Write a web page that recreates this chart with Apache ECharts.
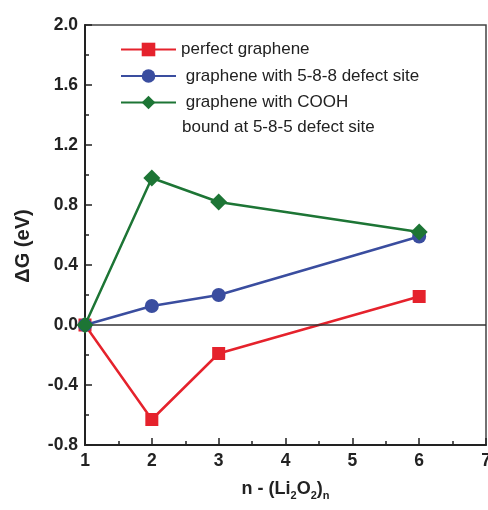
<!DOCTYPE html>
<html>
<head>
<meta charset="utf-8">
<script src="https://cdn.jsdelivr.net/npm/echarts@6/dist/echarts.min.js"></script>
<style>html,body{margin:0;padding:0;background:#fff}#c{width:488px;height:510px}</style>
</head>
<body>
<div id="c"></div>
<script>
const xValues = [1, 2, 3, 6];
const perfect = [0, -0.63, -0.19, 0.19];
const defect588 = [0, 0.127, 0.2, 0.59];
const cooh585 = [0, 0.98, 0.82, 0.62];
const seriesNames = ['perfect graphene', ' graphene with 5-8-8 defect site', ' graphene with COOH'];
const legendExtraLine = 'bound at 5-8-5 defect site';

const pair = arr => xValues.map((x, i) => [x, arr[i]]);
const font = '"Liberation Sans", Arial, sans-serif';
const chart = echarts.init(document.getElementById('c'));
chart.setOption({
  animation: false,
  backgroundColor: '#fff',
  textStyle: { fontFamily: font },
  grid: { left: 85, right: 2, top: 25, bottom: 65, show: true, borderColor: '#444', borderWidth: 1.5,
    outerBoundsMode: 'none', containLabel: false },
  legend: {
    orient: 'vertical', left: 115, top: 36, itemWidth: 55, itemHeight: 17, itemGap: 9.5,
    textStyle: { fontFamily: font, fontSize: 17, color: '#222' },
    data: seriesNames
  },
  graphic: [{
    type: 'text', left: 182, top: 119,
    style: { text: legendExtraLine, fontFamily: font, fontSize: 17, fill: '#222' }
  }],
  xAxis: {
    type: 'value', min: 1, max: 7, interval: 1,
    name: 'n - (Li{s|2}O{s|2}){s|n}', nameLocation: 'middle', nameGap: 33,
    nameTextStyle: {
      fontFamily: font, fontSize: 18, fontWeight: 'bold', color: '#222',
      rich: { s: { fontFamily: font, fontSize: 11, fontWeight: 'bold', color: '#222', padding: [12, 0, 0, 0] } }
    },
    axisLine: { onZero: false, lineStyle: { color: '#222', width: 2 } },
    axisTick: { inside: true, length: 7, lineStyle: { color: '#222', width: 1.5 } },
    minorTick: { show: true, splitNumber: 2, length: 4, lineStyle: { color: '#222', width: 1.5 } },
    axisLabel: { fontFamily: font, fontSize: 17.5, fontWeight: 'bold', color: '#222', margin: 7 },
    splitLine: { show: false }
  },
  yAxis: {
    type: 'value', min: -0.8, max: 2.0, interval: 0.4,
    name: 'ΔG (eV)', nameLocation: 'middle', nameGap: 52, nameRotate: 90,
    nameTextStyle: { fontFamily: font, fontSize: 20, fontWeight: 'bold', color: '#222', padding: [0, 22, 0, 0] },
    axisLine: { show: true, onZero: false, lineStyle: { color: '#222', width: 2 } },
    axisTick: { inside: true, length: 7, lineStyle: { color: '#222', width: 1.5 } },
    minorTick: { show: true, splitNumber: 2, length: 4, lineStyle: { color: '#222', width: 1.5 } },
    axisLabel: { fontFamily: font, fontSize: 17.5, fontWeight: 'bold', color: '#222', margin: 7,
      formatter: v => v.toFixed(1) },
    splitLine: { show: false }
  },
  series: [
    { name: seriesNames[0], type: 'line', data: pair(perfect), symbol: 'rect', symbolSize: 13,
      itemStyle: { color: '#e5222c' }, lineStyle: { color: '#e5222c', width: 2.5 },
      markLine: { silent: true, symbol: 'none', label: { show: false },
        lineStyle: { color: '#333', width: 1.5, type: 'solid' }, data: [{ yAxis: 0 }] }, z: 3 },
    { name: seriesNames[1], type: 'line', data: pair(defect588), symbol: 'circle', symbolSize: 14,
      itemStyle: { color: '#3a4d9f' }, lineStyle: { color: '#3a4d9f', width: 2.5 }, z: 4 },
    { name: seriesNames[2], type: 'line', data: pair(cooh585), symbol: 'diamond', symbolSize: 17,
      itemStyle: { color: '#1d7535' }, lineStyle: { color: '#1d7535', width: 2.5 }, z: 5 }
  ]
});
</script>
</body>
</html>
